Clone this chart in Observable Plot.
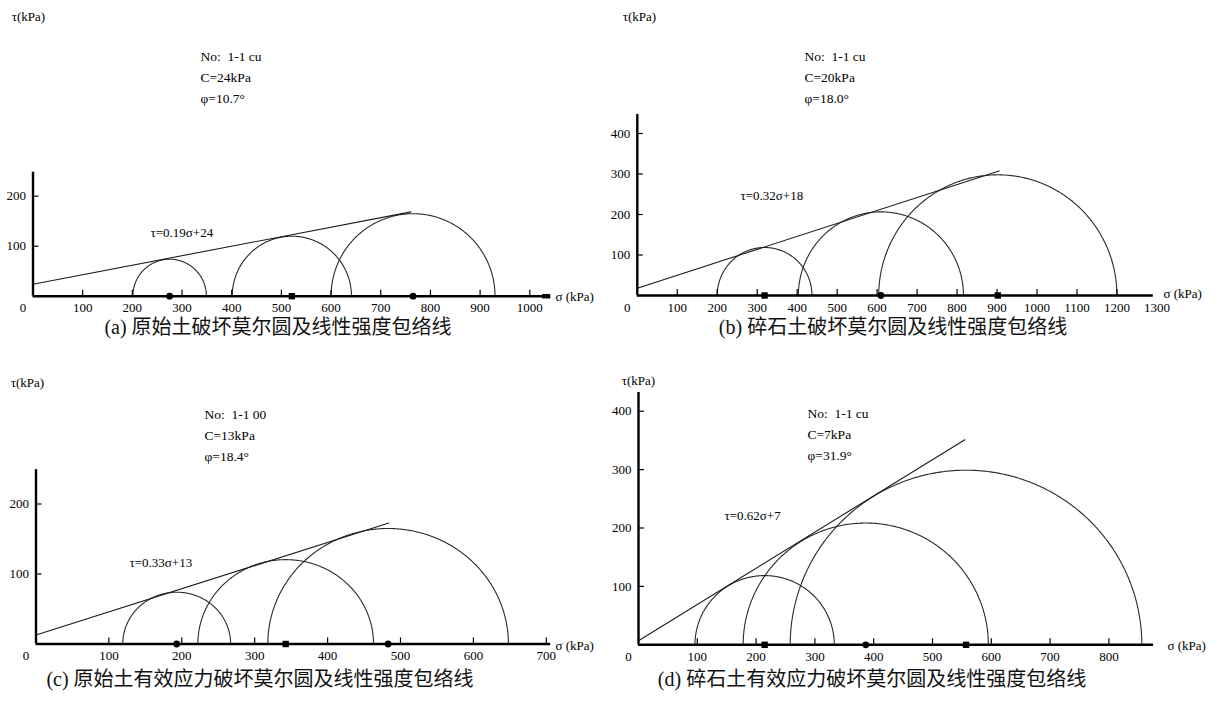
<!DOCTYPE html>
<html><head><meta charset="utf-8">
<script src="https://cdn.jsdelivr.net/npm/d3@7"></script>
<script src="https://cdn.jsdelivr.net/npm/@observablehq/plot@0.6"></script>
<style>
body{margin:0;background:#fff;}
#root{position:relative;width:1217px;height:704px;overflow:hidden;background:#fff;}
.panel{position:absolute;}
.cap{position:absolute;font-size:20px;line-height:24px;white-space:nowrap;transform:translate(-50%,-50%);font-family:"Liberation Serif","Noto Sans CJK SC",serif;color:#111;z-index:5}
</style></head><body><div id="root"></div>
<script>
// ---------- data ----------
const panelKeys = ["a", "b", "c", "d"];
const sigma3_a = [201, 401, 600];
const sigma1_a = [349, 641, 930];
const sigma3_b = [200, 403, 604];
const sigma1_b = [437, 816, 1200];
const sigma3_c = [119, 222, 318];
const sigma1_c = [267, 463, 648];
const sigma3_d = [96, 178, 258];
const sigma1_d = [333, 595, 856];
const markerShapes_a = ["circle", "square", "circle"];
const markerShapes_b = ["square", "circle", "square"];
const markerShapes_c = ["circle", "square", "circle"];
const markerShapes_d = ["square", "circle", "square"];
const cohesion = [24, 18, 13, 7];          // intercept of envelope (kPa)
const slope = [0.19, 0.32, 0.33, 0.62];    // tan(phi) of envelope
const envelopeEnd = [761, 905, 484, 555];  // sigma where drawn envelope stops
const xAxisEnd = [1042, 1291, 706, 876];
const yAxisEnd = [248, 447, 249, 432];
const xTickLabels_a = [0, 100, 200, 300, 400, 500, 600, 700, 800, 900, 1000];
const xTickLabels_b = [0, 100, 200, 300, 400, 500, 600, 700, 800, 900, 1000, 1100, 1200, 1300];
const xTickLabels_c = [0, 100, 200, 300, 400, 500, 600, 700];
const xTickLabels_d = [0, 100, 200, 300, 400, 500, 600, 700, 800];
const xTickMarks_a = [100, 200, 300, 400, 500, 600, 700, 800, 900, 1000];
const xTickMarks_b = [100, 200, 300, 400, 500, 600, 700, 800, 900, 1000, 1100, 1200];
const xTickMarks_c = [100, 200, 300, 400, 500, 600, 700];
const xTickMarks_d = [100, 200, 300, 400, 500, 600, 700, 800];
const yTicks_a = [100, 200];
const yTicks_b = [100, 200, 300, 400];
const yTicks_c = [100, 200];
const yTicks_d = [100, 200, 300, 400];
const noLabels = ["No:  1-1 cu", "No:  1-1 cu", "No:  1-1 00", "No:  1-1 cu"];
const cLabels = ["C=24kPa", "C=20kPa", "C=13kPa", "C=7kPa"];
const phiLabels = ["φ=10.7°", "φ=18.0°", "φ=18.4°", "φ=31.9°"];
const eqLabels = ["τ=0.19σ+24", "τ=0.32σ+18", "τ=0.33σ+13", "τ=0.62σ+7"];
const captions = ["(a)  原始土破坏莫尔圆及线性强度包络线", "(b)  碎石土破坏莫尔圆及线性强度包络线",
                  "(c)  原始土有效应力破坏莫尔圆及线性强度包络线", "(d)  碎石土有效应力破坏莫尔圆及线性强度包络线"];
const yTitle = "τ(kPa)";
const xTitle = "σ (kPa)";
const axisEndCap = [true, false, false, false];

// ---------- layout (page pixels) ----------
const layout = {
  a: {left: 0,   top: 0,   w: 600, h: 318, x0: 32.5, kx: 0.4968, y0: 295.7, ky: 0.5,   tau: [28, 11],   sig: [555, 291],  eq: [150, 227], ann: [200, 51],  cap: [278, 327]},
  b: {left: 600, top: 0,   w: 617, h: 318, x0: 636.8, kx: 0.3997, y0: 295, ky: 0.405,  tau: [639, 11],  sig: [1163, 288], eq: [740, 190], ann: [804, 51],  cap: [893, 327]},
  c: {left: 0,   top: 352, w: 600, h: 318, x0: 35.5, kx: 0.729,  y0: 643.5, ky: 0.70,  tau: [27, 377],  sig: [555, 640],  eq: [129, 557], ann: [204, 409], cap: [260, 679]},
  d: {left: 600, top: 352, w: 617, h: 318, x0: 638,  kx: 0.588,  y0: 644.3, ky: 0.584, tau: [638, 375], sig: [1167, 640], eq: [724, 510], ann: [807, 408], cap: [872, 679]}
};
const annGap = 21;

const panels = {
  a: {s3: sigma3_a, s1: sigma1_a, sym: markerShapes_a, xl: xTickLabels_a, xm: xTickMarks_a, yt: yTicks_a},
  b: {s3: sigma3_b, s1: sigma1_b, sym: markerShapes_b, xl: xTickLabels_b, xm: xTickMarks_b, yt: yTicks_b},
  c: {s3: sigma3_c, s1: sigma1_c, sym: markerShapes_c, xl: xTickLabels_c, xm: xTickMarks_c, yt: yTicks_c},
  d: {s3: sigma3_d, s1: sigma1_d, sym: markerShapes_d, xl: xTickLabels_d, xm: xTickMarks_d, yt: yTicks_d}
};

const FONT = '"Liberation Serif", "Times New Roman", serif';
const root = document.getElementById("root");

panelKeys.forEach((key, idx) => {
  const p = panels[key], L = layout[key];
  const xEnd = xAxisEnd[idx], yEnd = yAxisEnd[idx];
  const semis = p.s3.flatMap((s3, i) => {
    const s1 = p.s1[i], c = (s1 + s3) / 2, r = (s1 - s3) / 2;
    return d3.range(0, 361).map(k => {
      const t = Math.PI - k * Math.PI / 360;
      return {i, x: c + r * Math.cos(t), y: r * Math.sin(t)};
    });
  });
  const centers = p.s3.map((s3, i) => ({x: (s3 + p.s1[i]) / 2, y: 0, sym: p.sym[i]}));
  const env = [0, envelopeEnd[idx]].map(s => ({x: s, y: cohesion[idx] + slope[idx] * s}));
  const tick = 6;
  const fx = (px) => px - L.left, fy = (py) => py - L.top;
  const T = {fontFamily: FONT, fill: "#000"};
  const annLines = [noLabels[idx], cLabels[idx], phiLabels[idx]];
  const chart = Plot.plot({
    width: L.w, height: L.h, margin: 0,
    style: {background: "transparent", color: "#000"},
    x: {domain: [0, xEnd], range: [fx(L.x0), fx(L.x0) + xEnd * L.kx], axis: null},
    y: {domain: [0, yEnd], range: [fy(L.y0), fy(L.y0) - yEnd * L.ky], axis: null},
    marks: [
      Plot.line(semis, {x: "x", y: "y", z: "i", stroke: "#2a2a2a", strokeWidth: 1.1}),
      Plot.line(env, {x: "x", y: "y", stroke: "#1a1a1a", strokeWidth: 1.1}),
      Plot.ruleY([0], {x1: 0, x2: xEnd, stroke: "#000", strokeWidth: 2.4}),
      Plot.ruleX([0], {y1: 0, y2: yEnd, stroke: "#000", strokeWidth: 2.4}),
      axisEndCap[idx] ? Plot.ruleY([0], {x1: xEnd - 8 / L.kx, x2: xEnd, stroke: "#000", strokeWidth: 4.5}) : null,
      Plot.ruleX(p.xm, {x: d => d, y1: 0, y2: tick / L.ky, stroke: "#000", strokeWidth: 1.2}),
      Plot.ruleY(p.yt, {y: d => d, x1: 0, x2: tick / L.kx, stroke: "#000", strokeWidth: 1.2}),
      Plot.text(p.xl.filter(v => v > 0), {x: d => d, y: 0, dy: 12, text: d => String(d), fontSize: 13, ...T}),
      Plot.text(p.xl.filter(v => v === 0), {x: d => d, y: 0, dy: 12, dx: -10, text: d => String(d), fontSize: 13, ...T}),
      Plot.text(p.yt, {x: 0, y: d => d, dx: -7, textAnchor: "end", text: d => String(d), fontSize: 13, ...T}),
      Plot.dot(centers.filter(d => d.sym === "circle"), {x: "x", y: "y", r: 3.4, fill: "#000", symbol: "circle"}),
      Plot.dot(centers.filter(d => d.sym === "square"), {x: "x", y: "y", r: 3.6, fill: "#000", symbol: "square"}),
      Plot.text([yTitle], {frameAnchor: "top-left", dx: fx(L.tau[0]), dy: fy(L.tau[1]), textAnchor: "middle", text: d => d, fontSize: 13, ...T}),
      Plot.text([xTitle], {frameAnchor: "top-left", dx: fx(L.sig[0]), dy: fy(L.sig[1]), textAnchor: "start", text: d => d, fontSize: 13, ...T}),
      Plot.text([eqLabels[idx]], {frameAnchor: "top-left", dx: fx(L.eq[0]), dy: fy(L.eq[1]), textAnchor: "start", text: d => d, fontSize: 13, ...T}),
      ...annLines.map((s, k) => Plot.text([s], {frameAnchor: "top-left", dx: fx(L.ann[0]), dy: fy(L.ann[1]) + k * annGap, textAnchor: "start", text: d => d, fontSize: 13.5, ...T}))
    ].filter(Boolean)
  });
  const holder = document.createElement("div");
  holder.className = "panel";
  holder.style.left = L.left + "px";
  holder.style.top = L.top + "px";
  holder.appendChild(chart);
  root.appendChild(holder);
  const cap = document.createElement("div");
  cap.className = "cap";
  cap.style.left = L.cap[0] + "px";
  cap.style.top = L.cap[1] + "px";
  cap.textContent = captions[idx];
  root.appendChild(cap);
});
</script>
</body></html>
